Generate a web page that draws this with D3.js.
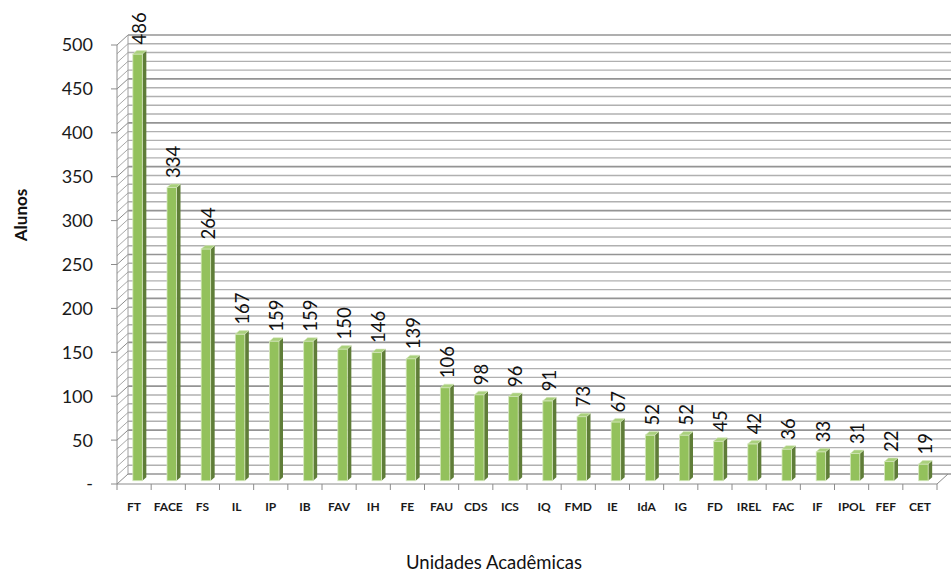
<!DOCTYPE html>
<html>
<head>
<meta charset="utf-8">
<script src="https://cdn.jsdelivr.net/npm/d3@7"></script>
<style>
  html, body { margin: 0; padding: 0; background: #ffffff; }
  svg { display: block; }
  text { font-family: Lato, "Open Sans", sans-serif; }
</style>
</head>
<body>
<svg id="chart" width="951" height="572"></svg>
<script>
// Alunos por unidade acadêmica
const categories = ["FT","FACE","FS","IL","IP","IB","FAV","IH","FE","FAU","CDS","ICS","IQ","FMD","IE","IdA","IG","FD","IREL","FAC","IF","IPOL","FEF","CET"];
const alunos = [486,334,264,167,159,159,150,146,139,106,98,96,91,73,67,52,52,45,42,36,33,31,22,19];
const yTicks = [0,50,100,150,200,250,300,350,400,450,500];
const yTickLabels = ["-","50","100","150","200","250","300","350","400","450","500"];
const minorStep = 10;

const svg = d3.select("#chart");
const W = 951;

// front plane of the 3D box
const x = d3.scaleBand().domain(categories).range([117, 937]);
const y = d3.scaleLinear().domain([0, 500]).range([484, 45]);

// depth offset of the back wall
const DX = 11, DY = -10;

// bar geometry
const barW = 9.5, barDX = 4, barDY = -3.5;

const g = svg.append("g");

// back wall grid lines (minor every 10, major every 50)
const gridVals = d3.range(0, 501, minorStep);
g.selectAll("line.grid")
  .data(gridVals)
  .join("line")
  .attr("x1", 117 + DX)
  .attr("x2", W)
  .attr("y1", d => y(d) + DY)
  .attr("y2", d => y(d) + DY)
  .attr("stroke", d => d % 50 === 0 ? "#949494" : "#b0b0b0")
  .attr("stroke-width", d => d % 50 === 0 ? 1.7 : 1.4);

// side wall diagonals
g.selectAll("line.side")
  .data(gridVals)
  .join("line")
  .attr("x1", 117)
  .attr("y1", d => y(d))
  .attr("x2", 117 + DX)
  .attr("y2", d => y(d) + DY)
  .attr("stroke", d => d % 50 === 0 ? "#8c8c8c" : "#a8a8a8")
  .attr("stroke-width", 1);

// back wall left edge
g.append("line")
  .attr("x1", 117 + DX).attr("x2", 117 + DX)
  .attr("y1", y(500) + DY).attr("y2", y(0) + DY)
  .attr("stroke", "#a0a0a0").attr("stroke-width", 1);

// floor front edge and right diagonal
g.append("path")
  .attr("d", `M${117},${y(0)} L${937},${y(0)} L${937 + DX},${y(0) + DY}`)
  .attr("fill", "none").attr("stroke", "#8c8c8c").attr("stroke-width", 1);

// vertical axis line and ticks
g.append("line")
  .attr("x1", 117).attr("x2", 117)
  .attr("y1", y(500)).attr("y2", y(0))
  .attr("stroke", "#8c8c8c").attr("stroke-width", 1);

g.selectAll("line.ytick")
  .data(yTicks)
  .join("line")
  .attr("x1", 111).attr("x2", 117)
  .attr("y1", d => y(d)).attr("y2", d => y(d))
  .attr("stroke", "#8c8c8c").attr("stroke-width", 1);

g.selectAll("text.ylab")
  .data(yTicks)
  .join("text")
  .attr("x", 93)
  .attr("y", d => y(d))
  .attr("dy", "0.36em")
  .attr("text-anchor", "end")
  .attr("font-size", 18)
  .attr("fill", "#1a1a1a")
  .text((d, i) => yTickLabels[i]);

// category ticks at band boundaries
const bounds = categories.map(c => x(c)).concat([x.range()[1]]);
g.selectAll("line.xtick")
  .data(bounds)
  .join("line")
  .attr("x1", d => d).attr("x2", d => d)
  .attr("y1", y(0)).attr("y2", y(0) + 6)
  .attr("stroke", "#8c8c8c").attr("stroke-width", 1);

g.selectAll("text.xlab")
  .data(categories)
  .join("text")
  .attr("x", d => x(d) + x.bandwidth() / 2)
  .attr("y", 511)
  .attr("text-anchor", "middle")
  .attr("font-size", 12)
  .attr("font-weight", 700)
  .attr("fill", "#1a1a1a")
  .text(d => d);

// 3D bars
const bars = g.selectAll("g.bar")
  .data(categories.map((c, i) => ({ c, v: alunos[i] })))
  .join("g");

function barBox(d) {
  const cx = x(d.c) + x.bandwidth() / 2 + DX / 2 - barDX / 2;
  const x0 = cx - barW / 2;
  const x1 = cx + barW / 2;
  const yb = y(0) + DY / 2 - barDY / 2;
  const yt = y(d.v) + DY / 2 - barDY / 2;
  return { x0, x1, yb, yt };
}

// side face
bars.append("path")
  .attr("d", d => {
    const b = barBox(d);
    return `M${b.x1},${b.yt} L${b.x1 + barDX},${b.yt + barDY} L${b.x1 + barDX},${b.yb + barDY} L${b.x1},${b.yb} Z`;
  })
  .attr("fill", "#5f7d38");

// front face
bars.append("rect")
  .attr("x", d => barBox(d).x0)
  .attr("y", d => barBox(d).yt)
  .attr("width", barW)
  .attr("height", d => barBox(d).yb - barBox(d).yt)
  .attr("fill", "#93c15c")
  .attr("stroke", "#d6e8bf")
  .attr("stroke-width", 0.8);

// top face
bars.append("path")
  .attr("d", d => {
    const b = barBox(d);
    return `M${b.x0},${b.yt} L${b.x0 + barDX},${b.yt + barDY} L${b.x1 + barDX},${b.yt + barDY} L${b.x1},${b.yt} Z`;
  })
  .attr("fill", "#a9d07c")
  .attr("stroke", "#d6e8bf")
  .attr("stroke-width", 0.6);

// value labels, rotated
bars.append("text")
  .attr("transform", d => {
    const b = barBox(d);
    const tx = (b.x0 + b.x1 + barDX) / 2;
    const ty = b.yt + barDY - 6;
    return `translate(${tx},${ty}) rotate(-90)`;
  })
  .attr("dy", "0.36em")
  .attr("font-size", 18.5)
  .attr("fill", "#111")
  .text(d => d.v);

// axis titles
svg.append("text")
  .attr("transform", "translate(21,215) rotate(-90)")
  .attr("dy", "0.36em")
  .attr("text-anchor", "middle")
  .attr("font-size", 17)
  .attr("font-weight", 700)
  .attr("fill", "#111")
  .text("Alunos");

svg.append("text")
  .attr("x", 494)
  .attr("y", 562)
  .attr("dy", "0.36em")
  .attr("text-anchor", "middle")
  .attr("font-size", 18.5)
  .attr("fill", "#111")
  .text("Unidades Acadêmicas");
</script>
</body>
</html>
